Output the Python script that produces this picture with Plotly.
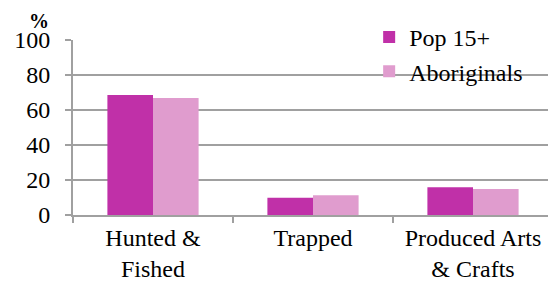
import plotly.graph_objects as go

categories = ["Hunted &<br>Fished", "Trapped", "Produced Arts<br>& Crafts"]
pop15 = [68.6, 9.9, 15.9]
aboriginals = [66.8, 11.3, 14.9]
series_names = ["Pop 15+", "Aboriginals"]
y_ticks = [0, 20, 40, 60, 80, 100]

FONT = "Liberation Serif"
GRID = "#A0A0A0"

fig = go.Figure()
fig.add_trace(go.Bar(x=categories, y=pop15, name=series_names[0],
                     marker=dict(color="#C030A8", line=dict(width=0))))
fig.add_trace(go.Bar(x=categories, y=aboriginals, name=series_names[1],
                     marker=dict(color="#E09CCE", line=dict(width=0))))

fig.update_layout(
    width=548, height=276,
    margin=dict(l=65, r=3, t=32, b=69),
    paper_bgcolor="white", plot_bgcolor="white",
    font=dict(family=FONT, size=24, color="black"),
    barmode="group", bargap=0.43, bargroupgap=0,
    showlegend=True,
    legend=dict(x=0.617, y=1.143, xanchor="left", yanchor="top",
                bgcolor="rgba(0,0,0,0)", traceorder="normal",
                font=dict(family=FONT, size=24), itemclick=False),
    xaxis=dict(showline=True, linecolor=GRID, linewidth=2,
               ticks="outside", tickson="boundaries", ticklen=6,
               tickcolor=GRID, tickwidth=2, showgrid=False, automargin=False,
               tickfont=dict(family=FONT, size=24)),
    yaxis=dict(range=[0, 100], tickvals=y_ticks, showline=True,
               linecolor=GRID, linewidth=2, ticks="outside", ticklen=6,
               tickcolor=GRID, tickwidth=2, showgrid=True, gridcolor=GRID,
               gridwidth=2, zeroline=False, ticklabelstandoff=10,
               automargin=False,
               tickfont=dict(family=FONT, size=24)),
    annotations=[dict(text="<b>%</b>", xref="paper", yref="paper",
                      x=-0.071, y=1.0, xanchor="center", yanchor="bottom",
                      yshift=6, showarrow=False,
                      font=dict(family=FONT, size=20))],
)

fig.write_html("out.html")
